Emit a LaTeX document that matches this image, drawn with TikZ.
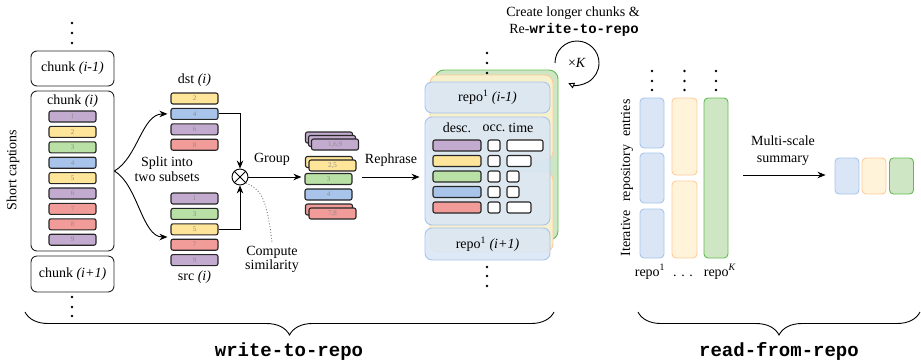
\documentclass[tikz,border=0pt]{standalone}
\usepackage{fontspec}
\setmainfont{Liberation Serif}
\setmonofont{Liberation Mono}
\usetikzlibrary{arrows.meta,decorations.pathreplacing,calc}
\definecolor{cpur}{HTML}{C3ABD0}
\definecolor{cyel}{HTML}{FFE599}
\definecolor{cgre}{HTML}{B9E0A5}
\definecolor{cblu}{HTML}{A9C4EB}
\definecolor{cred}{HTML}{F19C99}
\definecolor{bfill}{HTML}{DAE6F6}
\definecolor{bdraw}{HTML}{A9C4EB}
\definecolor{ofill}{HTML}{FFF3DA}
\definecolor{odraw}{HTML}{FFCC99}
\definecolor{yfill}{HTML}{F6F1CC}
\definecolor{gfill}{HTML}{CFE6C4}
\definecolor{gdraw}{HTML}{62BB52}
\tikzset{
  cbar/.style={draw=black!85, line width=1.1pt, rounded corners=2pt, minimum width=47pt, minimum height=11pt, inner sep=0pt, font=\fontsize{7}{8}\selectfont, text=black!45},
  cell/.style={draw=black!85, fill=white, line width=1.1pt, rounded corners=2pt, minimum height=11pt, inner sep=0pt},
  chunkbox/.style={draw=black!85, line width=0.9pt, rounded corners=6pt, minimum width=83pt, inner sep=0pt},
  arr/.style={-{Stealth[length=8pt,width=6.5pt]}, line width=0.9pt},
  ddot/.style={circle, fill=black, inner sep=0pt, minimum size=2.6pt},
  bluebox/.style={draw=bdraw, fill=bfill, fill opacity=0.88, text opacity=1, line width=0.9pt, rounded corners=7pt, inner sep=0pt, minimum width=125pt},
  orbox/.style={draw=odraw, fill=yfill, line width=0.9pt, rounded corners=8pt, inner sep=0pt, minimum width=123pt},
  grbox/.style={draw=gdraw, fill=gfill, line width=0.9pt, rounded corners=9pt, inner sep=0pt, minimum width=123pt},
  col/.style={minimum width=24pt, rounded corners=4pt, inner sep=0pt, line width=0.9pt},
  colb/.style={col, draw=bdraw, fill=bfill},
  colo/.style={col, draw=odraw, fill=ofill},
  colg/.style={col, draw=gdraw, fill=gfill},
  bigbrace/.style={line width=0.9pt, decorate, decoration={brace, mirror, amplitude=23pt}},
  bracelbl/.style={anchor=base, font=\fontsize{19}{22}\selectfont\ttfamily\bfseries},
}
\begin{document}
\begin{tikzpicture}[x=1pt, y=-1pt, font=\fontsize{14}{16}\selectfont]
\useasboundingbox (0,0) rectangle (921,360);

% ---------------- left: chunks ----------------
\node[ddot] (lu1) at (72,23) {};
\node[ddot] (lu2) at (72,33) {};
\node[ddot] (lu3) at (72,43) {};
\node[chunkbox, minimum height=35pt] (ck1) at (72.5,68.5) {chunk \textit{(i-1)}};
\node[chunkbox, minimum height=160pt] (cki) at (72.5,171) {};
\node (ckil) at (72.5,101) {chunk \textit{(i)}};
\node[chunkbox, minimum height=36pt] (ck2) at (72.5,274) {chunk \textit{(i+1)}};
\node[ddot] (ld1) at (72,297) {};
\node[ddot] (ld2) at (72,307) {};
\node[ddot] (ld3) at (72,316) {};
\node[rotate=90] (sc) at (13,170) {Short captions};

\node[cbar, fill=cpur] (c1) at (72.5,116.5) {1};
\node[cbar, fill=cyel] (c2) at (72.5,131.9) {2};
\node[cbar, fill=cgre] (c3) at (72.5,147.3) {3};
\node[cbar, fill=cblu] (c4) at (72.5,162.7) {4};
\node[cbar, fill=cyel] (c5) at (72.5,178.1) {5};
\node[cbar, fill=cpur] (c6) at (72.5,193.5) {6};
\node[cbar, fill=cred] (c7) at (72.5,208.9) {7};
\node[cbar, fill=cred] (c8) at (72.5,224.3) {8};
\node[cbar, fill=cpur] (c9) at (72.5,239.7) {9};

% ---------------- dst / src ----------------
\node (dstl) at (194.5,80) {dst \textit{(i)}};
\node[cbar, fill=cyel] (d2) at (194.5,98.5) {2};
\node[cbar, fill=cblu] (d4) at (194.5,113.9) {4};
\node[cbar, fill=cpur] (d6) at (194.5,129.3) {6};
\node[cbar, fill=cred] (d8) at (194.5,144.7) {8};

\node[cbar, fill=cpur] (s1) at (194.5,198.5) {1};
\node[cbar, fill=cgre] (s3) at (194.5,213.9) {3};
\node[cbar, fill=cyel] (s5) at (194.5,229.3) {5};
\node[cbar, fill=cred] (s7) at (194.5,244.7) {7};
\node[cbar, fill=cpur] (s9) at (194.5,260.1) {9};
\node (srcl) at (194.5,277) {src \textit{(i)}};

\node[align=center, font=\fontsize{14}{15}\selectfont] (split) at (167,169) {Split into\\two subsets};
\coordinate (s57) at ($(s5.west)!0.5!(s7.west)$);
\draw[arr, shorten >=3pt] (cki.east) .. controls (138,157) and (142,114) .. (d4.west);
\draw[arr, shorten >=3pt] (cki.east) .. controls (138,185) and (142,237) .. (s57);

\node[circle, draw, line width=0.9pt, inner sep=0pt, minimum size=16pt] (ot) at (240,177) {};
\draw[line width=0.8pt] (ot.45) -- (ot.225) (ot.135) -- (ot.-45);
\draw[arr] (d4.east) -| (ot.north);
\draw[arr] (s5.east) -| (ot.south);

\node (grp) at (272,159) {Group};
\node[align=center, font=\fontsize{14}{14}\selectfont] (cs) at (272,259) {Compute\\similarity};
\draw[dotted, line width=0.9pt, black!55] (ot.-45) .. controls (262,190) and (267,200) .. (cs.north);

% ---------------- grouped stacks ----------------
\node[cbar, fill=cpur] (g1a) at (329,137.5) {};
\node[cbar, fill=cpur] (g1b) at (332,141) {};
\node[cbar, fill=cpur] (g1c) at (335,144.5) {1,6,9};
\node[cbar, fill=cyel] (g2a) at (329,162) {};
\node[cbar, fill=cyel] (g2b) at (332.5,165.5) {2,5};
\node[cbar, fill=cgre] (g3) at (328.5,179) {3};
\node[cbar, fill=cblu] (g4) at (328.5,194.5) {4};
\node[cbar, fill=cred] (g5a) at (329,209.5) {};
\node[cbar, fill=cred] (g5b) at (332.5,213.5) {7,8};
\draw[arr, shorten >=3pt] (ot.east) -- (ot.east -| g3.west);

\node (reph) at (391,160) {Rephrase};
\coordinate (rs) at (362,177);

% ---------------- repository panel ----------------
\node[grbox, minimum height=170pt] (gback) at (496.5,155) {};
\node[orbox, minimum height=85pt] (ob1) at (491.5,117.5) {};
\node[orbox, minimum height=80pt] (ob2) at (491.5,212) {};
\node[bluebox, minimum height=31pt] (rtop) at (487.5,97.5) {repo\textsuperscript{1} \textit{(i-1)}};
\node[bluebox, minimum height=108pt] (rmid) at (487.5,171) {};
\node[bluebox, minimum height=32pt] (rbot) at (487.5,244) {repo\textsuperscript{1} \textit{(i+1)}};
\draw[arr, shorten >=5pt] (rs) -- (rs -| rmid.west);

\node (hdesc) at (457,128) {desc.};
\node (hocc) at (494,128) {occ.};
\node (htime) at (521,128) {time};

\node[cbar, fill=cpur, minimum width=48pt] (r1) at (457,145.5) {};
\node[cbar, fill=cyel, minimum width=48pt] (r2) at (457,161) {};
\node[cbar, fill=cgre, minimum width=48pt] (r3) at (457,176.5) {};
\node[cbar, fill=cblu, minimum width=48pt] (r4) at (457,192) {};
\node[cbar, fill=cred, minimum width=48pt] (r5) at (457,207.5) {};
\node[cell, minimum width=12pt] (o1) at (494,145.5) {};
\node[cell, minimum width=12pt] (o2) at (494,161) {};
\node[cell, minimum width=12pt] (o3) at (494,176.5) {};
\node[cell, minimum width=12pt] (o4) at (494,192) {};
\node[cell, minimum width=12pt] (o5) at (494,207.5) {};
\node[cell, minimum width=36pt] (t1) at (525,145.5) {};
\node[cell, minimum width=24pt] (t2) at (519,161) {};
\node[cell, minimum width=12pt] (t3) at (513,176.5) {};
\node[cell, minimum width=12pt] (t4) at (513,192) {};
\node[cell, minimum width=24pt] (t5) at (519,207.5) {};

\node[ddot] (ru1) at (487,53) {};
\node[ddot] (ru2) at (487,63) {};
\node[ddot] (ru3) at (487,73) {};
\node[ddot] (rd1) at (487,267) {};
\node[ddot] (rd2) at (487,276) {};
\node[ddot] (rd3) at (487,286) {};

% loop
\node (xk) at (577,63) {×\textit{K}};
\draw[line width=0.9pt, -{Triangle[open, length=6pt, width=6pt]}] ($(xk.center)+(-22,0)$) arc[start angle=-180, end angle=113, radius=22];
\node (lp1) at (573,13) {Create longer chunks \&};
\node (lp2) at (574,30) {Re-\texttt{\textbf{write-to-repo}}};

% ---------------- right: read-from-repo ----------------
\node[colb, minimum height=50pt] (b1) at (652,123) {};
\node[colb, minimum height=50pt] (b2) at (652,178) {};
\node[colb, minimum height=49pt] (b3) at (652,233.5) {};
\node[colo, minimum height=77pt, minimum width=25pt] (q1) at (684.5,136.5) {};
\node[colo, minimum height=77pt, minimum width=25pt] (q2) at (684.5,219.5) {};
\node[colg, minimum height=160pt] (gk) at (716,178) {};
\foreach \xx/\nm in {652/a,684.5/b,716/c}{
  \node[ddot] (cd\nm1) at (\xx,71) {};
  \node[ddot] (cd\nm2) at (\xx,81) {};
  \node[ddot] (cd\nm3) at (\xx,90) {};
}
\node[rotate=90] (ire) at (627,178) {\makebox[157pt][s]{Iterative repository entries}};
\node[anchor=base] (rp1) at (650,276) {repo\textsuperscript{1}};
\node[anchor=base] (rpd) at (683,276) {.\,\,.\,\,.};
\node[anchor=base] (rpk) at (720,276) {repo\textsuperscript{\textit{K}}};

\node[align=center, font=\fontsize{14}{17}\selectfont] (msl) at (783,151) {Multi-scale\\summary};
\coordinate (ms) at (743,175);
\node[colb, minimum height=36pt] (sb1) at (847,176) {};
\node[colo, minimum height=36pt] (sb2) at (874,176) {};
\node[colg, minimum height=36pt] (sb3) at (901.5,176) {};
\draw[arr, shorten >=9pt] (ms) -- (ms -| sb1.west);

% ---------------- braces ----------------
\coordinate (br1a) at (25,312);
\coordinate (br1b) at (554,312);
\coordinate (br2a) at (638,312);
\coordinate (br2b) at (920,312);
\draw[bigbrace] (br1a) -- (br1b);
\draw[bigbrace] (br2a) -- (br2b);
\node[bracelbl] (w2r) at (289,356) {write-to-repo};
\node[bracelbl] (rfr) at (779,356) {read-from-repo};
\end{tikzpicture}
\end{document}
